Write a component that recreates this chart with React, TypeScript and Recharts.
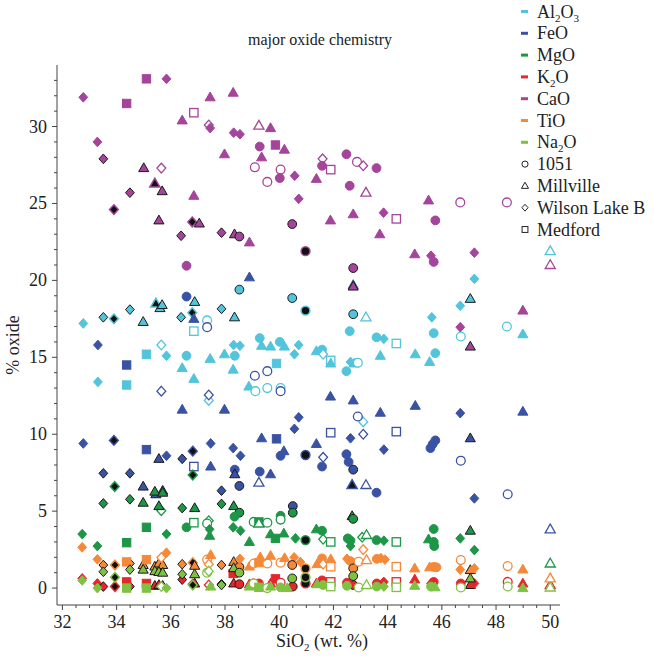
import React from 'react';
import { ScatterChart, Scatter, XAxis, YAxis } from 'recharts';

// [SiO2, oxide %, site, style]
// site: c = 1051, t = Millville, d = Wilson Lake B, s = Medford
// style: f = filled, o = open, k = filled w/ black edge, b = black fill
type Pt = [number, number, string, string];

const al2o3: Pt[] = [
  [36.88, 18.6, 't', 'k'], [35.45, 18.5, 't', 'b'], [35.6, 18.2, 't', 'k'], [35.68, 18.4, 't', 'k'],
  [34.49, 18.1, 'd', 'k'], [33.51, 17.6, 'd', 'k'], [33.9, 17.5, 'd', 'b'], [32.77, 17.2, 'd', 'f'],
  [34.98, 17.3, 't', 'k'], [36.38, 17.6, 'd', 'k'], [36.79, 17.9, 'd', 'b'], [36.85, 16.7, 's', 'o'],
  [37.34, 17.4, 'c', 'o'], [35.65, 15.8, 'd', 'o'], [38.53, 19.4, 'c', 'k'], [40.48, 18.85, 'c', 'k'],
  [40.97, 18.04, 'c', 'b'], [37.87, 18.15, 'd', 'k'], [38.35, 17.6, 't', 'k'], [42.73, 17.8, 'c', 'k'],
  [43.2, 17.6, 't', 'o'], [42.6, 16.7, 'c', 'f'], [39.28, 16.25, 'c', 'f'], [40.02, 16.0, 'c', 'f'],
  [38.32, 15.8, 'd', 'f'], [38.55, 15.75, 'd', 'f'], [39.35, 15.75, 't', 'f'], [39.68, 15.7, 't', 'f'],
  [40.19, 15.7, 't', 'f'], [40.72, 15.8, 'd', 'f'], [41.58, 15.5, 'c', 'f'], [37.45, 14.9, 't', 'f'],
  [37.98, 15.2, 't', 'f'], [38.36, 15.1, 'c', 'f'], [38.3, 14.2, 't', 'f'], [40.56, 15.2, 'd', 'f'],
  [39.9, 14.6, 's', 'f'], [41.37, 15.4, 't', 'f'], [41.62, 15.2, 'd', 'o'], [41.9, 14.8, 's', 'o'],
  [41.9, 14.6, 't', 'f'], [42.63, 14.7, 'd', 'f'], [42.77, 14.6, 't', 'f'], [42.9, 14.65, 'c', 'o'],
  [42.48, 14.1, 'c', 'f'], [38.88, 13.1, 't', 'f'], [39.12, 12.8, 'c', 'o'], [39.56, 13.0, 'c', 'o'],
  [40.05, 13.0, 'c', 'o'], [37.4, 12.2, 'd', 'o'], [43.1, 10.8, 'd', 'o'], [35.1, 15.2, 's', 'f'],
  [35.84, 15.1, 'd', 'f'], [36.58, 15.1, 'c', 'f'], [36.42, 14.3, 't', 'f'], [36.85, 13.6, 't', 'f'],
  [33.31, 13.4, 'd', 'f'], [34.37, 13.2, 's', 'f'], [47.2, 20.1, 'd', 'f'], [47.05, 18.8, 't', 'k'],
  [46.68, 18.35, 'd', 'f'], [45.63, 17.6, 'd', 'f'], [45.7, 16.57, 'c', 'f'], [46.7, 16.35, 'c', 'o'],
  [48.4, 17.0, 'c', 'o'], [48.99, 16.5, 't', 'f'], [43.59, 16.3, 'c', 'f'], [43.86, 16.2, 'd', 'f'],
  [44.32, 15.9, 's', 'o'], [43.73, 15.1, 't', 'f'], [45.02, 15.2, 't', 'f'], [45.76, 15.27, 'c', 'f'],
  [45.55, 14.7, 't', 'f'], [50.0, 21.9, 't', 'o'],
];

const feo: Pt[] = [
  [36.58, 18.95, 'c', 'f'], [36.85, 17.5, 't', 'f'], [37.34, 16.96, 'c', 'o'], [33.31, 15.8, 'd', 'f'],
  [38.9, 20.2, 't', 'f'], [42.73, 19.7, 't', 'f'], [34.37, 14.5, 's', 'f'], [35.65, 12.8, 'd', 'o'],
  [36.42, 11.6, 't', 'f'], [32.77, 9.4, 'd', 'f'], [33.9, 9.6, 'd', 'b'], [35.1, 9.0, 's', 'f'],
  [35.56, 8.4, 't', 'k'], [35.84, 8.6, 'd', 'f'], [36.42, 8.4, 'd', 'k'], [36.81, 8.9, 'd', 'b'],
  [36.85, 7.9, 's', 'o'], [37.47, 9.4, 'd', 'f'], [33.51, 7.46, 'd', 'k'], [34.49, 7.46, 'd', 'k'],
  [39.1, 13.8, 'c', 'o'], [39.56, 14.1, 'c', 'o'], [40.05, 12.8, 'c', 'o'], [37.4, 12.55, 'd', 'o'],
  [37.98, 11.6, 't', 'f'], [41.89, 12.45, 't', 'f'], [42.73, 12.2, 't', 'f'], [42.9, 11.15, 'c', 'o'],
  [43.1, 10.0, 'd', 'o'], [40.72, 11.1, 'd', 'f'], [40.56, 10.35, 'd', 'f'], [41.9, 10.1, 's', 'o'],
  [42.63, 9.74, 'd', 'f'], [39.35, 9.74, 't', 'f'], [39.9, 9.7, 's', 'f'], [41.37, 9.37, 't', 'f'],
  [38.3, 9.1, 'd', 'f'], [38.57, 8.6, 'd', 'f'], [40.17, 8.9, 't', 'f'], [40.05, 8.6, 'c', 'f'],
  [40.97, 8.65, 'c', 'b'], [41.62, 8.5, 'd', 'o'], [42.48, 8.7, 'c', 'f'], [42.56, 8.2, 'c', 'f'],
  [41.58, 7.9, 'c', 'f'], [42.73, 7.7, 'c', 'k'], [37.47, 7.9, 't', 'f'], [38.36, 7.7, 'c', 'f'],
  [38.36, 7.4, 't', 'k'], [39.28, 7.57, 'c', 'f'], [39.68, 7.4, 't', 'f'], [34.98, 6.6, 't', 'k'],
  [35.45, 6.1, 't', 'k'], [35.7, 6.33, 't', 'k'], [37.87, 6.33, 'd', 'k'], [38.53, 6.64, 'c', 'k'],
  [39.25, 6.85, 't', 'o'], [40.5, 5.33, 'c', 'k'], [42.69, 6.7, 't', 'b'], [43.2, 6.7, 't', 'o'],
  [43.59, 6.2, 'c', 'f'], [47.2, 5.83, 'd', 'f'], [48.43, 6.1, 'c', 'o'], [50.0, 3.82, 't', 'o'],
  [43.73, 11.4, 't', 'f'], [45.02, 11.85, 't', 'f'], [46.68, 11.37, 'd', 'f'], [48.99, 11.47, 't', 'f'],
  [44.32, 10.17, 's', 'o'], [43.86, 9.0, 'd', 'f'], [45.58, 9.1, 'c', 'f'], [45.66, 9.35, 'c', 'f'],
  [45.76, 9.6, 'c', 'f'], [47.05, 9.74, 't', 'k'], [46.7, 8.28, 'c', 'o'],
];

const mgo: Pt[] = [
  [33.93, 6.6, 'd', 'b'], [33.51, 5.5, 'd', 'k'], [34.49, 5.77, 'd', 'k'], [34.98, 5.55, 't', 'k'],
  [35.41, 6.27, 't', 'k'], [35.7, 6.2, 't', 'k'], [35.65, 5.03, 'd', 'o'], [35.56, 5.33, 't', 'k'],
  [36.42, 5.2, 'd', 'k'], [36.88, 5.2, 't', 'k'], [36.81, 7.35, 'd', 'b'], [37.87, 5.47, 'd', 'k'],
  [38.32, 5.33, 't', 'k'], [38.53, 4.9, 'c', 'k'], [40.5, 4.9, 'c', 'k'], [40.05, 4.7, 'c', 'f'],
  [40.05, 4.45, 'c', 'o'], [38.35, 4.64, 'c', 'f'], [35.1, 3.95, 's', 'f'], [35.84, 3.51, 'd', 'f'],
  [36.58, 3.95, 'c', 'f'], [36.85, 4.25, 's', 'o'], [37.4, 4.38, 'd', 'o'], [37.34, 4.2, 'c', 'o'],
  [37.43, 3.82, 'd', 'f'], [37.43, 3.4, 't', 'f'], [38.3, 3.95, 'd', 'f'], [38.57, 3.73, 'd', 'f'],
  [38.9, 3.0, 't', 'f'], [39.06, 4.3, 'c', 'o'], [39.25, 4.3, 's', 'f'], [39.25, 4.2, 't', 'o'],
  [39.56, 4.25, 'c', 'o'], [39.68, 3.5, 't', 'f'], [40.17, 3.55, 't', 'f'], [39.86, 3.23, 's', 'f'],
  [40.6, 3.23, 'd', 'f'], [40.97, 3.12, 'c', 'b'], [32.73, 3.51, 'd', 'f'], [33.29, 2.73, 'd', 'f'],
  [34.37, 2.95, 's', 'f'], [41.37, 3.82, 't', 'f'], [41.58, 3.73, 'c', 'f'], [42.69, 4.68, 't', 'k'],
  [42.73, 4.5, 'c', 'k'], [41.62, 3.17, 'd', 'o'], [41.9, 3.0, 's', 'o'], [42.53, 3.23, 'c', 'f'],
  [42.63, 3.08, 'c', 'f'], [42.63, 2.73, 'd', 'f'], [43.06, 3.3, 'd', 'o'], [43.22, 3.45, 't', 'o'],
  [43.59, 3.12, 'c', 'f'], [43.86, 3.08, 'd', 'f'], [44.32, 3.0, 's', 'o'], [45.51, 3.17, 't', 'f'],
  [45.7, 3.0, 'c', 'f'], [45.72, 2.73, 'c', 'f'], [45.7, 3.84, 'c', 'f'], [46.68, 3.23, 'd', 'f'],
  [47.05, 3.73, 't', 'k'], [47.2, 2.47, 'd', 'f'], [50.0, 1.6, 't', 'o'],
];

const k2o: Pt[] = [
  [32.73, 0.63, 'd', 'f'], [33.29, 0.3, 'd', 'f'], [33.51, 0.1, 'd', 'k'], [33.94, 0.1, 'd', 'b'],
  [34.49, 0.1, 'd', 'k'], [34.37, 0.4, 's', 'f'], [35.1, 0.3, 's', 'f'], [35.41, 0.15, 't', 'k'],
  [35.56, 0.2, 't', 'k'], [35.7, 0.15, 't', 'k'], [36.42, 0.55, 'd', 'k'], [36.81, 0.25, 'd', 'b'],
  [36.88, 0.3, 't', 'k'], [37.4, 0.2, 'd', 'o'], [37.87, 0.25, 'd', 'k'], [38.32, 0.3, 't', 'k'],
  [38.53, 0.25, 'c', 'k'], [38.3, 0.95, 's', 'f'], [39.25, 0.3, 'c', 'f'], [39.68, 0.3, 't', 'f'],
  [39.86, 0.6, 's', 'f'], [40.5, 0.1, 'c', 'k'], [40.97, 0.3, 'c', 'b'], [41.58, 0.5, 'c', 'f'],
  [41.9, 0.4, 's', 'o'], [42.73, 0.2, 'c', 'k'], [43.86, 0.4, 'd', 'f'], [44.32, 0.4, 's', 'o'],
  [45.0, 0.56, 't', 'f'], [45.7, 0.4, 'c', 'f'], [46.7, 0.3, 'c', 'f'], [47.05, 0.2, 't', 'k'],
  [48.43, 0.4, 'c', 'o'], [48.99, 0.3, 't', 'f'], [50.0, 0.2, 't', 'o'], [41.37, 0.3, 't', 'f'],
  [42.5, 0.35, 'c', 'f'], [43.6, 0.3, 'c', 'f'], [45.6, 0.3, 'd', 'f'], [47.2, 0.3, 'd', 'f'],
  [38.9, 0.25, 't', 'f'], [39.06, 0.3, 'c', 'o'], [40.05, 0.35, 'c', 'o'],
];

const cao: Pt[] = [
  [32.77, 31.9, 'd', 'f'], [35.1, 33.1, 's', 'f'], [35.84, 33.1, 'd', 'f'], [34.37, 31.5, 's', 'f'],
  [36.42, 30.4, 't', 'f'], [36.85, 30.9, 's', 'o'], [37.45, 31.9, 't', 'f'], [37.4, 30.1, 'd', 'o'],
  [37.45, 29.9, 'd', 'f'], [33.29, 29.0, 'd', 'f'], [33.51, 27.9, 'd', 'k'], [35.0, 27.3, 't', 'k'],
  [35.65, 27.3, 'd', 'o'], [35.41, 26.3, 't', 'b'], [35.68, 25.8, 't', 'k'], [34.49, 25.7, 'd', 'k'],
  [36.85, 25.5, 't', 'f'], [33.9, 24.6, 'd', 'b'], [35.56, 23.9, 't', 'k'], [36.79, 23.8, 'd', 'b'],
  [37.05, 23.7, 't', 'k'], [36.38, 22.9, 'd', 'k'], [36.58, 20.95, 'c', 'f'], [38.3, 32.2, 't', 'f'],
  [38.32, 29.6, 'd', 'f'], [38.55, 29.5, 'd', 'f'], [39.25, 30.06, 't', 'o'], [39.68, 29.9, 't', 'f'],
  [37.98, 28.2, 't', 'f'], [39.28, 28.7, 'c', 'f'], [39.86, 28.8, 's', 'f'], [40.19, 28.5, 't', 'f'],
  [39.35, 28.0, 't', 'f'], [39.1, 27.35, 'c', 'o'], [40.05, 27.2, 'c', 'o'], [40.02, 26.65, 'c', 'f'],
  [39.56, 26.4, 'c', 'o'], [40.57, 26.8, 'd', 'f'], [41.37, 26.6, 't', 'f'], [41.6, 27.9, 'd', 'o'],
  [41.58, 27.45, 'c', 'f'], [41.9, 27.2, 's', 'o'], [42.48, 28.2, 'c', 'f'], [42.87, 27.7, 'c', 'o'],
  [43.1, 27.45, 'd', 'o'], [42.6, 26.15, 'c', 'f'], [40.72, 25.3, 'd', 'f'], [43.2, 25.7, 't', 'o'],
  [41.89, 23.9, 't', 'f'], [42.73, 24.3, 't', 'f'], [37.87, 23.1, 'd', 'k'], [38.35, 23.0, 't', 'k'],
  [38.53, 22.85, 'c', 'k'], [38.9, 22.47, 't', 'f'], [40.48, 23.66, 'c', 'k'], [40.97, 21.9, 'c', 'b'],
  [42.73, 20.8, 'c', 'k'], [42.73, 19.6, 't', 'k'], [43.59, 27.3, 'c', 'f'], [45.51, 25.2, 't', 'f'],
  [46.68, 25.07, 'c', 'o'], [48.4, 25.07, 'c', 'o'], [43.85, 24.4, 'd', 'f'], [44.32, 24.0, 's', 'o'],
  [45.76, 23.9, 'c', 'f'], [43.71, 23.0, 't', 'f'], [45.0, 21.7, 't', 'f'], [45.6, 21.6, 'd', 'f'],
  [45.7, 21.2, 'c', 'f'], [47.2, 21.8, 'd', 'f'], [48.99, 18.04, 't', 'f'], [46.68, 16.96, 'd', 'f'],
  [47.05, 15.7, 't', 'k'], [50.0, 21.0, 't', 'o'],
];

const tio: Pt[] = [
  [32.73, 2.65, 'd', 'f'], [33.29, 1.87, 'd', 'f'], [33.51, 1.5, 'd', 'k'], [33.94, 1.5, 'd', 'b'],
  [34.49, 1.6, 'd', 'k'], [34.37, 1.7, 's', 'f'], [34.98, 1.5, 't', 'k'], [35.1, 1.85, 's', 'f'],
  [35.41, 1.4, 't', 'k'], [35.56, 1.6, 't', 'k'], [35.7, 1.5, 't', 'k'], [35.65, 1.98, 'd', 'o'],
  [35.84, 2.3, 'd', 'f'], [36.42, 1.55, 'd', 'k'], [36.81, 1.65, 'd', 'b'], [36.88, 1.45, 't', 'k'],
  [37.34, 1.85, 'c', 'o'], [37.4, 1.55, 'd', 'o'], [37.47, 2.15, 't', 'f'], [37.87, 1.5, 'd', 'k'],
  [38.32, 1.7, 't', 'k'], [38.53, 1.37, 'c', 'k'], [38.55, 1.9, 'd', 'f'], [38.9, 1.4, 't', 'f'],
  [39.06, 1.6, 'c', 'o'], [39.25, 1.65, 's', 'f'], [39.56, 1.6, 'c', 'o'], [39.3, 2.0, 't', 'f'],
  [39.68, 2.1, 't', 'f'], [40.05, 1.65, 'c', 'o'], [40.2, 1.95, 't', 'f'], [40.55, 2.0, 'd', 'f'],
  [40.48, 1.5, 'c', 'k'], [40.78, 1.7, 'd', 'f'], [40.97, 1.28, 'c', 'b'], [41.4, 1.56, 't', 'f'],
  [41.58, 1.93, 'c', 'f'], [41.62, 1.56, 'd', 'o'], [41.9, 1.87, 't', 'f'], [41.9, 1.39, 's', 'o'],
  [42.5, 1.9, 'd', 'f'], [42.63, 1.75, 'c', 'f'], [42.8, 1.6, 'c', 'f'], [42.73, 1.28, 'c', 'k'],
  [42.93, 1.71, 'c', 'o'], [43.22, 1.82, 't', 'o'], [43.1, 2.5, 'd', 'o'], [43.6, 1.9, 'c', 'f'],
  [43.75, 1.95, 'd', 'f'], [43.9, 1.85, 'd', 'f'], [44.32, 1.39, 's', 'o'], [45.0, 1.28, 't', 'f'],
  [45.55, 1.35, 't', 'f'], [45.7, 1.38, 'c', 'f'], [45.8, 1.35, 'c', 'f'], [46.7, 1.82, 'c', 'o'],
  [46.68, 1.2, 'd', 'f'], [47.05, 1.17, 't', 'k'], [47.2, 1.28, 'd', 'f'], [48.43, 1.43, 'c', 'o'],
  [48.99, 1.21, 't', 'f'], [50.0, 0.63, 't', 'o'],
];

const na2o: Pt[] = [
  [32.73, 0.5, 'd', 'f'], [33.29, 0.0, 'd', 'f'], [33.51, 1.06, 'd', 'k'], [33.94, 0.7, 'd', 'b'],
  [34.49, 1.2, 'd', 'k'], [34.37, 0.0, 's', 'f'], [34.98, 1.2, 't', 'k'], [35.1, 0.0, 's', 'f'],
  [35.41, 1.1, 't', 'k'], [35.56, 1.05, 't', 'k'], [35.7, 1.0, 't', 'k'], [35.65, 0.1, 'd', 'o'],
  [35.84, 0.0, 'd', 'f'], [36.42, 0.9, 'd', 'k'], [36.81, 0.2, 'd', 'b'], [36.88, 0.9, 't', 'k'],
  [37.47, 0.1, 't', 'f'], [37.34, 1.0, 'c', 'o'], [37.4, 1.1, 'd', 'o'], [37.87, 0.2, 'd', 'k'],
  [38.32, 1.3, 't', 'k'], [38.53, 1.0, 'c', 'k'], [38.9, 0.1, 't', 'f'], [39.06, 0.3, 'c', 'o'],
  [39.25, 0.05, 's', 'f'], [39.56, 0.0, 'c', 'o'], [39.68, 0.1, 't', 'f'], [40.05, 0.05, 'c', 'f'],
  [40.3, 0.0, 't', 'f'], [40.48, 0.63, 'c', 'k'], [40.97, 0.7, 'c', 'b'], [41.4, 0.25, 't', 'f'],
  [41.62, 0.2, 'c', 'f'], [41.9, 0.1, 's', 'o'], [42.5, 0.15, 'c', 'f'], [42.73, 0.78, 'c', 'k'],
  [42.93, 0.04, 'c', 'o'], [43.22, 0.2, 't', 'o'], [43.6, 0.1, 'c', 'f'], [43.86, 0.1, 'd', 'f'],
  [44.32, 0.05, 's', 'o'], [45.0, 0.15, 't', 'f'], [45.6, 0.1, 'c', 'f'], [45.75, 0.05, 't', 'f'],
  [46.7, 0.04, 'c', 'o'], [47.05, 0.63, 't', 'k'], [48.43, 0.1, 'c', 'o'], [48.99, 0.0, 't', 'f'],
  [50.0, 0.04, 't', 'o'],
];

const xLabels = [32, 34, 36, 38, 40, 42, 44, 46, 48, 50];
const yLabels = [0, 5, 10, 15, 20, 25, 30];

const SERIES = [
  { name: 'Al', sub: '2', tail: 'O', sub2: '3', color: '#52c4db', data: al2o3 },
  { name: 'FeO', color: '#3a52a3', data: feo },
  { name: 'MgO', color: '#1e9648', data: mgo },
  { name: 'K', sub: '2', tail: 'O', color: '#e5262b', data: k2o },
  { name: 'CaO', color: '#a4449b', data: cao },
  { name: 'TiO', color: '#f5893a', data: tio },
  { name: 'Na', sub: '2', tail: 'O', color: '#7ec143', data: na2o },
];

const SITES = [
  { code: 'c', label: '1051' },
  { code: 't', label: 'Millville' },
  { code: 'd', label: 'Wilson Lake B' },
  { code: 's', label: 'Medford' },
];

const FONT = '"Liberation Serif", "Times New Roman", serif';

// minor ticks every 0.5 on x, every 1 on y; labels only on the majors
const xTicks: number[] = [];
for (let v = 32; v <= 50; v += 0.5) xTicks.push(v);
const yTicks: number[] = [];
for (let v = 0; v <= 33; v += 1) yTicks.push(v);

const Shape = ({ cx, cy, site, fill, stroke, sw, size = 1 }: any) => {
  const r = 4.4 * size;
  if (site === 'c') return <circle cx={cx} cy={cy} r={r} fill={fill} stroke={stroke} strokeWidth={sw} />;
  if (site === 't') {
    const pts = `${cx},${cy - r * 1.2} ${cx - r * 1.15},${cy + r * 0.8} ${cx + r * 1.15},${cy + r * 0.8}`;
    return <polygon points={pts} fill={fill} stroke={stroke} strokeWidth={sw} />;
  }
  if (site === 'd') {
    const pts = `${cx},${cy - r * 1.1} ${cx + r},${cy} ${cx},${cy + r * 1.1} ${cx - r},${cy}`;
    return <polygon points={pts} fill={fill} stroke={stroke} strokeWidth={sw} />;
  }
  return <rect x={cx - r * 0.95} y={cy - r * 0.95} width={r * 1.9} height={r * 1.9} fill={fill} stroke={stroke} strokeWidth={sw} />;
};

const makeMarker = (color: string) => (props: any) => {
  const { cx, cy, payload } = props;
  if (cx == null || cy == null) return <g />;
  const st = payload.t;
  const fill = st === 'o' ? '#ffffff' : st === 'b' ? '#111111' : color;
  const stroke = st === 'k' ? '#1a1a1a' : color;
  const sw = st === 'o' ? 1.3 : st === 'b' ? 1.5 : 1;
  return <Shape cx={cx} cy={cy} site={payload.s} fill={fill} stroke={stroke} sw={sw} />;
};

const XTick = (props: any) => {
  const { x, y, payload } = props;
  const v = payload.value;
  const major = xLabels.includes(v);
  return (
    <g>
      <line x1={x} x2={x} y1={y} y2={y + (major ? 5 : 3)} stroke="#444" strokeWidth={1} />
      {major && (
        <text x={x} y={y + 23} textAnchor="middle" fontSize={18} fontFamily={FONT} fill="#222">
          {v}
        </text>
      )}
    </g>
  );
};

const YTick = (props: any) => {
  const { x, y, payload } = props;
  const v = payload.value;
  const major = yLabels.includes(v);
  return (
    <g>
      <line x1={x} x2={x - (major ? 5 : 3)} y1={y} y2={y} stroke="#444" strokeWidth={1} />
      {major && (
        <text x={x - 10} y={y + 6} textAnchor="end" fontSize={18} fontFamily={FONT} fill="#222">
          {v}
        </text>
      )}
    </g>
  );
};

const Overlay = () => {
  const rowY = (i: number) => 17.5 + i * 21.8;
  return (
    <svg width={654} height={660} style={{ position: 'absolute', left: 0, top: 0, pointerEvents: 'none' }}>
      <text x={320} y={45} textAnchor="middle" fontSize={16} fontFamily={FONT} fill="#222">
        major oxide chemistry
      </text>
      <text
        transform="translate(19,345) rotate(-90)"
        textAnchor="middle"
        fontSize={18}
        fontFamily={FONT}
        fill="#222"
      >
        % oxide
      </text>
      <text x={322} y={647} textAnchor="middle" fontSize={18} fontFamily={FONT} fill="#222">
        SiO<tspan fontSize={11} dy={4}>2</tspan>
        <tspan dy={-4}> (wt. %)</tspan>
      </text>
      {SERIES.map((s, i) => (
        <g key={s.name + i}>
          <line x1={521} x2={528} y1={rowY(i) - 6} y2={rowY(i) - 6} stroke={s.color} strokeWidth={3} />
          <text x={537} y={rowY(i)} fontSize={18} fontFamily={FONT} fill="#222">
            {s.name}
            {s.sub && <tspan fontSize={11} dy={4}>{s.sub}</tspan>}
            {s.tail && <tspan dy={s.sub ? -4 : 0}>{s.tail}</tspan>}
            {s.sub2 && <tspan fontSize={11} dy={4}>{s.sub2}</tspan>}
          </text>
        </g>
      ))}
      {SITES.map((s, j) => {
        const y = rowY(SERIES.length + j);
        return (
          <g key={s.code}>
            <Shape cx={525} cy={y - 6} site={s.code} fill="#fff" stroke="#222" sw={1} size={0.7} />
            <text x={537} y={y} fontSize={18} fontFamily={FONT} fill="#222">
              {s.label}
            </text>
          </g>
        );
      })}
    </svg>
  );
};

export default function App() {
  return (
    <div style={{ position: 'absolute', left: 0, top: 0, width: 654, height: 660, background: '#fff' }}>
      <ScatterChart width={654} height={660} margin={{ top: 65, right: 94, bottom: 0, left: 0 }}>
        <XAxis
          type="number"
          dataKey="x"
          domain={[31.8, 50.36]}
          ticks={xTicks}
          interval={0}
          tickSize={0}
          tickMargin={0}
          tickLine={false}
          tick={<XTick />}
          axisLine={{ stroke: '#444' }}
          allowDataOverflow
          height={55}
        />
        <YAxis
          type="number"
          dataKey="y"
          domain={[-1.1, 34]}
          ticks={yTicks}
          interval={0}
          tickSize={0}
          tickMargin={0}
          tickLine={false}
          tick={<YTick />}
          axisLine={{ stroke: '#444' }}
          allowDataOverflow
          width={57}
        />
        {SERIES.map((s, i) => (
          <Scatter
            key={i}
            name={s.name}
            data={s.data.map(([x, y, site, t]) => ({ x, y, s: site, t }))}
            shape={makeMarker(s.color)}
            isAnimationActive={false}
          />
        ))}
      </ScatterChart>
      <Overlay />
    </div>
  );
}
